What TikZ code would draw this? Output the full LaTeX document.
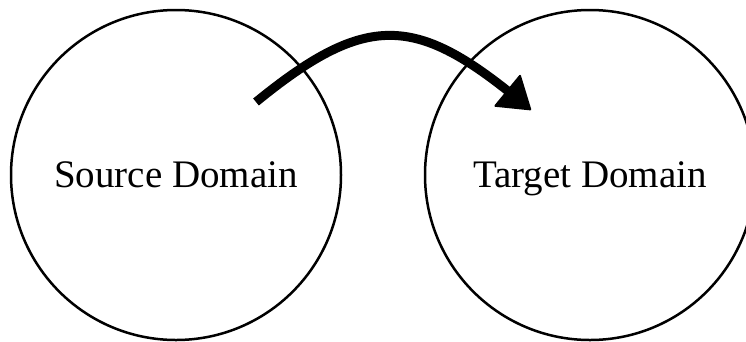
\documentclass[tikz,border=0pt]{standalone}
\usepackage{fontspec}
\setmainfont{Liberation Serif}
\usetikzlibrary{arrows.meta,bending}

\tikzset{
  domaincircle/.style={circle, draw, line width=2.5pt, minimum size=330pt, inner sep=0pt,
    font=\fontsize{39}{42}\selectfont, text height=25pt, text depth=0pt},
  mapping/.style={line width=9pt,
    -{Triangle[length=32pt,width=42pt,line width=2pt,round]}}
}

\begin{document}
\begin{tikzpicture}[x=1pt,y=-1pt]
  \useasboundingbox[fill=white] (0,0) rectangle (746,341);

  % the two domains
  \node[domaincircle] (src) at (176,175) {Source Domain};
  \node[domaincircle] (tgt) at (590,175) {Target Domain};

  % curved mapping arrow from source into target
  \coordinate (from) at (256,102);
  \coordinate (to) at (531,110);
  \draw[mapping] (from) .. controls (371,8) and (420,16) .. (to);
\end{tikzpicture}
\end{document}
